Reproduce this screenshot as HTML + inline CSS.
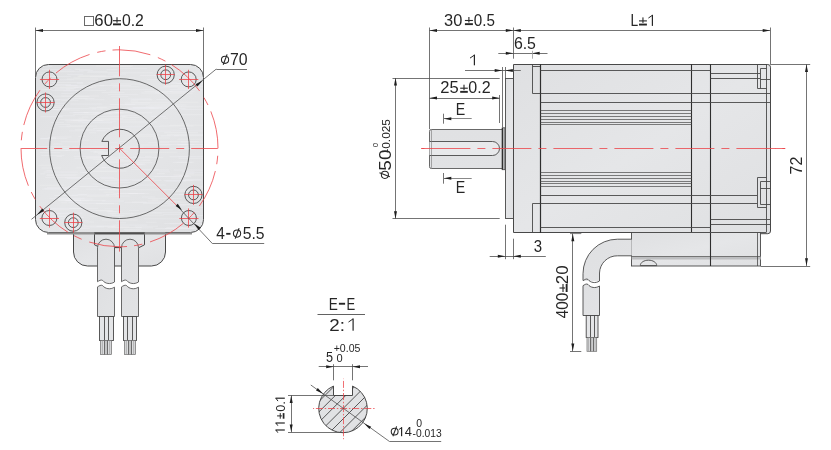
<!DOCTYPE html>
<html><head><meta charset="utf-8"><style>
html,body{margin:0;padding:0;background:#fff;}
svg{display:block;will-change:transform;}
text{font-family:"Liberation Sans", sans-serif;}
</style></head><body>
<svg width="831" height="450" viewBox="0 0 831 450">
<defs>
<linearGradient id="gbody" x1="0" y1="0" x2="1" y2="1"><stop offset="0" stop-color="#dfe0e2"/><stop offset="0.5" stop-color="#e5e6e8"/><stop offset="1" stop-color="#dfe0e2"/></linearGradient>
<linearGradient id="gcab" x1="0" y1="0" x2="1" y2="1"><stop offset="0" stop-color="#dfe0e2"/><stop offset="1" stop-color="#e2e3e5"/></linearGradient>
<linearGradient id="gshaft" x1="0" y1="0" x2="0" y2="1"><stop offset="0" stop-color="#e0e1e3"/><stop offset="1" stop-color="#e1e2e4"/></linearGradient>
</defs>
<rect x="35.5" y="64.5" width="168" height="168" rx="13" ry="13" fill="url(#gbody)" stroke="#484848" stroke-width="1"/>
<clipPath id="bodyclip"><rect x="36" y="65" width="167" height="167" rx="12"/></clipPath>
<path d="M59.6,119.4 h27.8 M117.4,78.0 h17.8 M113.1,75.6 h6.3 M47.5,137.6 h8.2 M161.0,136.0 h9.3 M131.1,102.8 h38.2 M96.5,161.2 h39.2 M165.8,73.7 h15.1 M54.7,89.8 h15.8 M64.1,200.7 h25.4 M92.9,171.4 h24.2 M45.9,76.4 h12.2 M101.1,178.3 h16.0 M105.0,162.6 h15.5 M141.8,197.1 h13.5 M115.8,160.8 h35.6 M80.2,186.4 h39.3 M99.7,85.5 h31.5 M110.3,91.1 h6.4 M151.7,176.3 h25.1 M84.1,210.5 h29.3 M124.0,164.1 h21.0 M178.7,204.6 h21.6 M46.1,175.6 h29.6 M186.0,172.8 h33.8 M94.9,113.0 h28.4 M106.3,69.7 h10.9 M45.8,85.3 h31.9 M74.1,87.3 h18.7 M49.1,209.8 h20.7 M169.5,156.7 h33.7 M78.8,208.6 h19.5 M169.6,125.2 h38.5 M63.4,90.9 h13.1 M109.7,104.5 h25.6 M37.6,109.4 h19.7 M122.0,126.9 h38.4 M114.3,179.9 h26.6 M45.1,177.6 h36.5 M168.2,194.7 h32.9 M96.8,130.7 h8.6 M46.3,170.7 h7.4 M61.3,100.4 h16.9 M37.0,74.7 h10.3 M91.5,82.7 h5.9 M129.1,210.3 h10.2 M89.1,107.6 h17.7 M164.3,86.3 h39.8 M109.6,142.9 h8.0 M88.4,82.9 h14.3 M61.2,202.8 h5.8 M116.2,222.9 h10.1 M41.1,155.6 h23.5 M166.5,227.5 h29.4 M92.0,109.1 h10.8 M116.9,193.4 h32.3 M70.5,120.4 h33.4 M164.9,228.5 h33.2 M148.0,201.0 h12.9 M90.3,151.4 h6.0 M78.9,70.6 h14.1 M180.5,180.3 h20.7 M185.2,220.6 h38.4 M70.1,126.2 h12.9 M67.7,98.5 h26.8 M163.1,214.6 h21.8 M156.9,173.7 h8.0 M173.5,175.0 h32.4 M108.7,189.8 h11.2 M86.9,196.2 h33.0 M96.4,226.3 h19.0 M145.7,222.2 h11.0 M59.7,87.0 h36.7 M58.9,199.1 h33.9 M135.6,227.8 h17.3 M56.6,156.5 h5.5 M134.5,226.2 h23.4 M102.1,220.0 h35.5 M68.7,202.3 h13.8 M73.1,114.3 h25.5 M99.9,108.8 h9.6 M90.1,216.2 h21.0 M172.6,162.3 h19.7 M112.2,217.4 h23.6 M39.8,152.4 h20.4 M37.6,96.2 h33.0 M108.0,94.4 h30.4 M85.9,157.8 h23.1 M154.6,157.6 h8.7 M74.3,158.4 h14.7 M113.2,193.4 h24.7 M173.9,191.4 h20.5 M112.8,167.1 h22.9 M104.9,180.3 h23.7 M178.2,144.9 h29.5 M178.3,210.6 h14.1 M178.5,158.3 h34.4 M55.2,88.6 h20.5 M73.1,78.0 h7.6 M154.6,176.5 h36.4 M144.4,91.5 h28.1 M169.4,89.6 h38.9 M179.9,102.2 h18.9 M185.5,146.4 h34.1 M101.7,92.6 h23.0 M66.4,122.0 h16.1 M39.9,185.2 h24.4 M39.7,138.7 h16.6 M113.8,168.9 h7.3 M155.3,228.5 h39.0 M76.8,83.3 h6.4 M77.6,194.5 h9.5 M173.7,135.7 h33.7 M59.4,108.7 h37.2 M142.1,160.1 h8.1 M140.2,75.5 h19.9 M177.8,77.9 h27.2 M49.6,198.3 h35.0 M166.4,77.0 h20.9 M120.0,122.0 h37.4 M56.4,110.2 h23.4 M53.4,105.3 h10.7 M67.3,74.3 h15.9 M150.9,116.3 h15.1 M63.7,148.5 h17.1 M74.6,69.0 h5.5 M119.7,187.0 h11.6 M177.2,144.3 h8.7 M101.8,201.1 h22.3 M96.0,203.7 h22.7 M184.4,179.5 h17.0 M143.0,203.3 h27.3 M89.1,132.8 h6.9 M47.6,87.4 h30.9 M61.5,108.2 h8.0 M167.6,204.8 h28.5 M73.3,112.5 h15.3 M60.6,141.8 h20.6 M181.3,109.4 h39.0 M73.7,156.3 h38.8 M90.5,117.1 h5.0 M108.2,129.0 h22.6 M112.7,99.2 h5.2 M50.5,109.6 h19.0 M40.4,72.9 h15.6 M124.8,104.4 h23.5 M135.6,189.8 h30.1 M95.4,211.0 h16.4 M59.4,228.5 h30.3 M43.6,172.1 h34.2 M131.1,213.2 h30.7 M57.9,200.0 h23.3 M162.2,149.2 h33.2 M124.6,202.4 h36.2 M141.0,178.7 h13.0 M57.0,71.1 h17.6 M162.4,83.3 h24.5 M130.9,169.6 h28.8 M37.5,146.7 h32.9 M112.4,189.5 h23.7 M46.9,174.8 h30.8 M48.2,107.6 h14.3 M67.8,186.3 h30.9 M111.1,227.0 h18.4 M139.6,145.0 h31.8 M133.4,167.8 h7.7 M75.1,90.3 h31.0 M122.2,116.2 h5.4 M77.3,76.0 h28.5 M138.4,180.2 h15.2 M106.7,151.2 h21.3 M171.0,85.6 h12.0 M177.4,227.4 h5.6 M160.0,141.7 h38.9 M77.3,140.2 h12.3 M68.6,222.0 h25.4 M115.6,89.4 h38.3 M160.0,87.9 h22.8 M142.5,212.3 h13.1 M109.9,214.1 h5.9 M110.8,66.6 h20.8 M58.1,115.8 h17.0 M163.0,118.2 h5.1 M162.9,189.9 h9.2 M144.0,218.9 h36.6 M92.8,113.8 h18.8 M125.4,230.8 h17.6 M78.3,136.6 h6.7 M162.2,82.8 h15.0 M74.4,220.4 h14.3 M65.5,150.3 h18.1 M169.6,223.8 h33.4 M174.0,170.1 h37.9 M144.9,156.6 h6.7 M104.6,186.8 h31.3 M79.9,172.3 h6.7 M56.1,218.9 h21.5 M81.7,122.7 h30.9 M76.0,227.1 h28.0 M120.6,115.6 h18.8 M61.2,93.6 h12.3 M111.6,215.5 h12.7 M186.5,215.5 h20.7 M65.9,89.0 h8.2 M50.7,122.4 h13.4 M122.4,108.6 h36.1 M98.9,189.7 h19.5 M93.5,152.5 h16.8 M78.6,76.2 h38.9 M112.5,86.8 h27.0 M69.4,208.4 h14.5 M97.0,107.0 h20.6 M164.3,223.4 h35.6 M41.8,69.6 h29.8 M108.0,213.8 h25.6 M95.7,66.0 h37.4 M165.3,202.2 h39.0 M53.4,107.0 h10.4 M139.3,152.2 h38.0 M134.1,185.1 h31.8 M119.7,141.5 h6.4 M71.9,195.1 h37.2 M82.6,172.5 h9.5 M132.4,107.5 h29.5 M47.6,84.5 h23.4 M95.2,162.2 h12.8 M38.6,165.2 h15.6 M180.8,142.0 h27.6 M108.3,211.8 h13.2 M181.1,106.8 h29.7 M40.3,116.7 h22.4 M100.0,177.3 h14.0 M175.8,176.1 h12.9 M87.7,71.6 h19.7 M66.7,178.6 h32.9 M112.7,188.0 h12.2 M83.8,226.0 h33.7 M70.2,104.1 h31.6 M179.8,114.7 h22.4 M70.5,96.9 h19.6 M179.3,175.8 h10.1 M68.9,130.9 h39.1 M44.8,89.4 h7.1 M171.7,130.9 h35.9 M186.6,186.9 h37.6 M64.8,120.3 h37.8 M41.8,189.1 h28.3 M93.1,128.5 h16.6 M37.4,93.9 h14.8 M180.3,124.0 h9.3 M68.1,225.1 h17.5 M160.3,201.6 h20.1 M108.0,74.1 h18.0 M66.0,217.7 h17.7 M41.5,214.0 h19.4 M152.0,200.0 h6.4 M46.4,71.8 h37.2 M149.1,108.4 h36.4 M77.8,121.9 h38.5 M76.3,167.8 h30.1 M78.3,118.2 h5.1 M174.5,190.7 h27.2 M40.6,221.6 h13.2 M180.5,144.4 h38.4 M74.7,129.8 h20.0 M176.2,147.4 h11.4 M147.8,198.4 h33.8 M128.1,193.5 h16.5 M91.3,118.7 h32.4 M66.6,79.0 h31.4 M46.7,106.8 h6.2 M85.9,157.2 h39.3 M185.2,211.8 h14.3 M51.5,79.9 h22.4 M104.0,183.1 h13.2 M130.0,134.8 h28.6 M164.0,189.4 h28.3 M163.1,86.0 h15.3 M92.9,159.5 h30.8 M74.1,98.9 h13.6 M169.6,91.3 h25.2 M96.4,119.8 h39.7 M71.7,149.7 h33.3 M185.6,173.8 h8.6 M159.9,144.3 h34.4 M43.1,216.9 h15.3 M65.4,85.7 h39.1 M176.5,162.2 h18.0 M104.4,208.9 h14.1 M178.9,194.3 h8.7 M130.0,164.4 h12.6 M58.2,126.8 h12.1 M126.9,108.1 h27.8 M38.7,99.6 h16.5 M64.8,177.9 h15.9 M156.3,99.6 h24.2 M52.2,76.4 h18.8 M132.9,156.8 h8.2 M141.3,93.0 h19.3 M83.1,112.7 h38.4 M122.0,117.5 h17.5 M166.6,134.7 h39.9 M66.6,126.0 h30.5 M37.9,99.6 h36.6 M160.1,135.9 h19.2 M106.1,211.7 h10.7 M119.7,68.4 h27.4 M50.4,216.1 h26.8 M112.7,127.2 h10.1 M115.2,112.7 h37.4 M110.6,84.0 h33.2 M66.6,225.5 h9.4 M183.3,221.6 h21.9 M175.9,74.8 h18.6 M130.1,215.2 h33.9 M154.9,92.4 h12.8 M164.0,132.7 h34.0 M69.7,96.2 h19.0 M94.5,151.5 h9.3 M145.7,106.8 h36.4 M121.4,72.8 h31.5 M162.7,72.3 h9.1 M119.5,164.9 h26.9 M100.0,116.5 h25.4 M135.8,136.2 h20.6 M40.5,138.3 h26.7 M72.3,146.8 h31.7 M105.7,194.7 h11.3 M53.1,144.1 h9.5 M50.8,137.0 h20.5 M43.1,150.2 h27.3 M147.0,79.6 h32.2 M45.1,150.4 h22.6 M179.6,128.3 h9.8 M186.4,207.4 h30.6 M66.1,200.5 h39.4 M180.5,147.2 h37.1 M155.3,93.2 h37.6 M89.6,76.8 h31.5 M171.5,92.2 h14.6 M58.5,200.6 h22.6 M68.2,217.8 h14.2 M84.9,149.5 h6.3 M61.2,96.0 h37.8 M171.3,178.1 h10.9 M54.3,195.5 h23.6 M91.0,171.0 h35.6 M124.0,157.6 h35.9 M185.9,83.3 h27.0 M156.7,131.1 h14.3 M123.6,229.4 h17.6 M103.3,192.2 h11.2 M44.2,188.7 h33.7 M132.9,107.9 h39.4 M136.6,162.7 h15.9 M42.1,66.3 h10.2 M101.8,167.6 h22.9 M56.8,213.8 h13.0 M40.3,173.8 h5.1 M53.0,124.6 h17.5 M124.5,103.0 h25.6 M130.6,99.7 h21.6 M177.5,88.2 h13.5 M51.4,90.6 h27.3 M154.3,209.8 h19.1 M38.7,109.6 h27.6 M89.5,158.8 h27.6 M177.6,139.2 h30.7 M172.5,107.0 h6.5 M97.9,153.7 h13.3 M153.8,75.6 h5.4 M178.1,156.9 h10.0 M128.2,98.9 h22.7 M159.0,171.9 h11.1 M82.0,117.0 h6.7 M154.4,212.7 h30.0 M163.7,67.0 h31.1 M148.3,142.8 h20.8 M52.8,103.3 h13.1 M87.3,72.4 h31.2 M163.8,180.7 h29.9 M120.1,109.9 h20.3 M115.5,196.1 h14.3 M181.8,171.9 h12.6 M39.3,211.2 h14.1 M148.6,105.0 h38.1 M86.0,189.1 h35.8 M72.9,120.2 h36.8 M140.9,170.1 h28.3 M107.4,227.5 h34.4 M165.6,181.1 h20.3 M122.6,185.6 h15.8 M130.4,101.0 h7.7 M58.7,216.3 h5.9 M176.3,83.6 h17.1 M41.3,89.4 h6.5 M132.1,180.3 h29.4 M46.9,187.6 h25.7 M159.6,126.0 h33.7 M46.9,213.1 h35.4 M178.6,216.9 h8.7 M53.8,99.9 h6.2 M158.8,205.9 h27.2 M131.7,202.1 h15.1 M51.7,82.5 h31.5 M84.9,99.8 h19.8 M75.5,69.5 h14.9 M92.2,184.1 h16.2 M112.6,225.1 h34.8 M41.6,168.0 h19.5 M153.0,138.0 h17.1 M117.7,182.3 h12.6 M50.6,208.3 h33.7 M37.2,94.1 h12.1 M183.7,191.8 h5.2 M110.7,147.0 h32.9 M111.2,96.4 h17.2 M76.1,203.3 h38.0 M69.2,112.8 h29.5 M53.5,148.2 h27.3" stroke="#f6f6f8" stroke-opacity="0.4" stroke-width="0.7" clip-path="url(#bodyclip)"/>
<path d="M73.5,232.5 V252 A14,14 0 0 0 87.5,266 H151.5 A14,14 0 0 0 165.5,252 V232.5" stroke="#484848" stroke-width="1" fill="url(#gbody)" />
<path d="M94.5,232.5 H144.5 V244.8 L139,247.6 M94.5,232.5 V244.8 L97.8,246.4" stroke="#484848" stroke-width="1" fill="none" />
<line x1="47.00" y1="233.50" x2="192.00" y2="233.50" stroke="#8f8f8f" stroke-width="1.8" />
<line x1="94.50" y1="233.50" x2="144.50" y2="233.50" stroke="#505050" stroke-width="1.7" />
<path d="M114.5,247.5 H121.5" stroke="#484848" stroke-width="1.2" fill="none" />
<path d="M114.5,247.5 V266 M121.5,247.5 V266" stroke="#484848" stroke-width="1" fill="none" />
<path d="M97.50,281.70 V247.70 A8.50,8.50 0 0 1 114.50,247.70 V282.00 L114.50,282.00 C110.25,284.70 105.15,283.70 102.60,280.40 C100.90,279.40 99.20,280.70 97.50,281.70 Z" stroke="#505050" stroke-width="0.85" fill="url(#gcab)" />
<path d="M97.50,286.90 C99.20,285.90 100.90,284.60 102.60,285.60 C105.15,288.90 110.25,289.90 114.50,287.20 V316.50 H97.50 Z" stroke="#505050" stroke-width="0.85" fill="url(#gcab)" />
<path d="M121.50,281.70 V247.70 A8.50,8.50 0 0 1 138.50,247.70 V282.00 L138.50,282.00 C134.25,284.70 129.15,283.70 126.60,280.40 C124.90,279.40 123.20,280.70 121.50,281.70 Z" stroke="#505050" stroke-width="0.85" fill="url(#gcab)" />
<path d="M121.50,286.90 C123.20,285.90 124.90,284.60 126.60,285.60 C129.15,288.90 134.25,289.90 138.50,287.20 V316.50 H121.50 Z" stroke="#505050" stroke-width="0.85" fill="url(#gcab)" />
<rect x="99.50" y="316.50" width="14.00" height="24.00" fill="#e4e5e7" stroke="#484848" stroke-width="0.9"/>
<line x1="104.50" y1="316.50" x2="104.50" y2="340.50" stroke="#484848" stroke-width="0.9" />
<line x1="108.50" y1="316.50" x2="108.50" y2="340.50" stroke="#484848" stroke-width="0.9" />
<rect x="100.50" y="340.50" width="11.00" height="14.00" fill="#dcdddf" stroke="#6a6a6a" stroke-width="0.7"/>
<line x1="104.50" y1="340.50" x2="104.50" y2="354.50" stroke="#5e5e5e" stroke-width="0.9" />
<line x1="107.50" y1="340.50" x2="107.50" y2="354.50" stroke="#5e5e5e" stroke-width="0.9" />
<line x1="102.33" y1="340.50" x2="102.33" y2="354.50" stroke="#9a9a9a" stroke-width="0.7"/>
<line x1="106.00" y1="340.50" x2="106.00" y2="354.50" stroke="#9a9a9a" stroke-width="0.7"/>
<line x1="109.67" y1="340.50" x2="109.67" y2="354.50" stroke="#9a9a9a" stroke-width="0.7"/>
<rect x="123.50" y="316.50" width="13.00" height="24.00" fill="#e4e5e7" stroke="#484848" stroke-width="0.9"/>
<line x1="127.50" y1="316.50" x2="127.50" y2="340.50" stroke="#484848" stroke-width="0.9" />
<line x1="132.50" y1="316.50" x2="132.50" y2="340.50" stroke="#484848" stroke-width="0.9" />
<rect x="124.50" y="340.50" width="11.00" height="14.00" fill="#dcdddf" stroke="#6a6a6a" stroke-width="0.7"/>
<line x1="128.50" y1="340.50" x2="128.50" y2="354.50" stroke="#5e5e5e" stroke-width="0.9" />
<line x1="131.50" y1="340.50" x2="131.50" y2="354.50" stroke="#5e5e5e" stroke-width="0.9" />
<line x1="126.33" y1="340.50" x2="126.33" y2="354.50" stroke="#9a9a9a" stroke-width="0.7"/>
<line x1="130.00" y1="340.50" x2="130.00" y2="354.50" stroke="#9a9a9a" stroke-width="0.7"/>
<line x1="133.67" y1="340.50" x2="133.67" y2="354.50" stroke="#9a9a9a" stroke-width="0.7"/>
<circle cx="119.5" cy="148.6" r="69.9" fill="none" stroke="#484848" stroke-width="0.8"/>
<circle cx="119.5" cy="148.6" r="39.4" fill="none" stroke="#484848" stroke-width="0.8"/>
<path d="M101.84,141.4 H108.5 V155.5 H101.61 A19.5,19.5 0 1 0 101.84,141.4" stroke="#484848" stroke-width="0.9" fill="none" />
<circle cx="49.50" cy="79.40" r="7.5" fill="none" stroke="#484848" stroke-width="0.9"/>
<line x1="39.90" y1="79.50" x2="59.10" y2="79.50" stroke="#ec4046" stroke-width="0.78" />
<line x1="49.50" y1="69.80" x2="49.50" y2="89.00" stroke="#ec4046" stroke-width="0.78" />
<circle cx="188.70" cy="79.40" r="7.5" fill="none" stroke="#484848" stroke-width="0.9"/>
<line x1="179.10" y1="79.50" x2="198.30" y2="79.50" stroke="#ec4046" stroke-width="0.78" />
<line x1="188.50" y1="69.80" x2="188.50" y2="89.00" stroke="#ec4046" stroke-width="0.78" />
<circle cx="49.40" cy="218.00" r="7.5" fill="none" stroke="#484848" stroke-width="0.9"/>
<line x1="39.80" y1="218.50" x2="59.00" y2="218.50" stroke="#ec4046" stroke-width="0.78" />
<line x1="49.50" y1="208.40" x2="49.50" y2="227.60" stroke="#ec4046" stroke-width="0.78" />
<circle cx="188.90" cy="218.00" r="7.5" fill="none" stroke="#484848" stroke-width="0.9"/>
<line x1="179.30" y1="218.50" x2="198.50" y2="218.50" stroke="#ec4046" stroke-width="0.78" />
<line x1="188.50" y1="208.40" x2="188.50" y2="227.60" stroke="#ec4046" stroke-width="0.78" />
<circle cx="165.71" cy="74.75" r="8.6" fill="none" stroke="#484848" stroke-width="0.9"/>
<circle cx="165.71" cy="74.75" r="4.9" fill="none" stroke="#484848" stroke-width="0.9"/>
<line x1="156.71" y1="74.50" x2="174.71" y2="74.50" stroke="#ec4046" stroke-width="0.78" />
<line x1="165.50" y1="64.75" x2="165.50" y2="84.75" stroke="#ec4046" stroke-width="0.78" />
<circle cx="45.55" cy="102.49" r="8.6" fill="none" stroke="#484848" stroke-width="0.9"/>
<circle cx="45.55" cy="102.49" r="4.9" fill="none" stroke="#484848" stroke-width="0.9"/>
<line x1="36.55" y1="102.50" x2="54.55" y2="102.50" stroke="#ec4046" stroke-width="0.78" />
<line x1="45.50" y1="92.49" x2="45.50" y2="112.49" stroke="#ec4046" stroke-width="0.78" />
<circle cx="73.29" cy="222.65" r="8.6" fill="none" stroke="#484848" stroke-width="0.9"/>
<circle cx="73.29" cy="222.65" r="4.9" fill="none" stroke="#484848" stroke-width="0.9"/>
<line x1="64.29" y1="222.50" x2="82.29" y2="222.50" stroke="#ec4046" stroke-width="0.78" />
<line x1="73.50" y1="212.65" x2="73.50" y2="232.65" stroke="#ec4046" stroke-width="0.78" />
<circle cx="193.45" cy="194.91" r="8.6" fill="none" stroke="#484848" stroke-width="0.9"/>
<circle cx="193.45" cy="194.91" r="4.9" fill="none" stroke="#484848" stroke-width="0.9"/>
<line x1="184.45" y1="194.50" x2="202.45" y2="194.50" stroke="#ec4046" stroke-width="0.78" />
<line x1="193.50" y1="184.91" x2="193.50" y2="204.91" stroke="#ec4046" stroke-width="0.78" />
<circle cx="119.5" cy="148.3" r="98.5" fill="none" stroke="#ec4046" stroke-width="0.78" stroke-dasharray="38.5 8 8.4 7" stroke-dashoffset="38.9"/>
<line x1="21.20" y1="148.50" x2="217.80" y2="148.50" stroke="#ec4046" stroke-width="0.78" stroke-dasharray="39 7 8 7" stroke-dashoffset="13"/>
<line x1="119.50" y1="46.00" x2="119.50" y2="251.60" stroke="#ec4046" stroke-width="0.78" stroke-dasharray="39 7 8 7" stroke-dashoffset="8.7"/>
<line x1="119.50" y1="148.30" x2="176.50" y2="205.30" stroke="#ec4046" stroke-width="0.78" />
<line x1="35.50" y1="27.50" x2="35.50" y2="77.00" stroke="#505050" stroke-width="0.8" />
<line x1="203.50" y1="27.50" x2="203.50" y2="77.00" stroke="#505050" stroke-width="0.8" />
<line x1="35.50" y1="30.50" x2="203.50" y2="30.50" stroke="#505050" stroke-width="0.8" />
<path d="M35.50,30.40 L43.00,28.90 L43.00,31.90 Z" fill="#1e1e1e"/>
<path d="M203.50,30.40 L196.00,31.90 L196.00,28.90 Z" fill="#1e1e1e"/>
<rect x="84.5" y="16.5" width="9" height="9" fill="none" stroke="#6a6a6a" stroke-width="1"/>
<text x="0" y="0" font-size="16.3" fill="#262626" transform="translate(94.35,25.70) scale(1.0265,1)">60</text>
<g transform="translate(113.00,25.70)"><rect x="0" y="-5.55" width="8.00" height="1.10" fill="#262626"/><rect x="3.45" y="-8.50" width="1.10" height="5.50" fill="#262626"/><rect x="0" y="-2.30" width="8.00" height="1.90" fill="#262626"/></g>
<text x="0" y="0" font-size="16.3" fill="#262626" transform="translate(121.89,25.70) scale(0.9667,1)">0.2</text>
<line x1="31.50" y1="219.30" x2="216.30" y2="69.00" stroke="#505050" stroke-width="0.8" />
<line x1="216.30" y1="69.50" x2="247.00" y2="69.50" stroke="#505050" stroke-width="0.8" />
<path d="M37.00,214.80 L42.26,208.59 L44.15,210.92 Z" fill="#1e1e1e"/>
<path d="M202.70,80.40 L197.44,86.61 L195.55,84.28 Z" fill="#1e1e1e"/>
<ellipse cx="225.05" cy="59.80" rx="3.60" ry="3.55" fill="none" stroke="#262626" stroke-width="1.05"/><line x1="227.10" y1="54.40" x2="223.20" y2="64.80" stroke="#262626" stroke-width="1.1"/>
<text x="0" y="0" font-size="16.3" fill="#262626" transform="translate(229.89,64.80) scale(0.9725,1)">70</text>
<line x1="176.50" y1="205.30" x2="212.50" y2="243.70" stroke="#505050" stroke-width="0.8" />
<line x1="212.50" y1="243.50" x2="264.20" y2="243.50" stroke="#505050" stroke-width="0.8" />
<path d="M182.00,210.20 L175.64,205.96 L177.76,203.84 Z" fill="#1e1e1e"/>
<path d="M194.30,223.60 L200.66,227.84 L198.54,229.96 Z" fill="#1e1e1e"/>
<text x="0" y="0" font-size="16.3" fill="#262626" transform="translate(216.34,238.50) scale(0.9495,1)">4</text>
<rect x="226.2" y="232.9" width="4.3" height="1.8" fill="#262626"/>
<ellipse cx="237.05" cy="233.60" rx="3.60" ry="3.55" fill="none" stroke="#262626" stroke-width="1.05"/><line x1="239.10" y1="228.20" x2="235.20" y2="238.60" stroke="#262626" stroke-width="1.1"/>
<text x="0" y="0" font-size="16.3" fill="#262626" transform="translate(242.67,238.50) scale(0.9662,1)">5.5</text>
<path d="M431.3,129.5 H502.5 V168.5 H431.3 Q429.5,168.5 429.5,166.7 V131.3 Q429.5,129.5 431.3,129.5 Z" stroke="#505050" stroke-width="0.85" fill="url(#gshaft)" />
<path d="M429.5,141.5 H492.5 A7,7 0 0 1 492.5,155.5 H429.5" stroke="#484848" stroke-width="0.9" fill="#e8e9eb" />
<line x1="431.50" y1="130.00" x2="431.50" y2="167.90" stroke="#777" stroke-width="0.6" />
<rect x="502.2" y="127.8" width="2.7" height="41.9" fill="#c8c9cb" stroke="#484848" stroke-width="0.8"/>
<line x1="502.50" y1="128.00" x2="502.50" y2="169.50" stroke="#303030" stroke-width="1.3" />
<rect x="505.5" y="78.5" width="8" height="140" fill="url(#gbody)" stroke="#484848" stroke-width="0.9"/>
<path d="M513.5,64.5 H767.8 Q770.5,64.5 770.5,67.2 V231 Q770.5,233.7 767.8,233.7 H710.5 V232.5 H513.5 Z" fill="url(#gbody)" stroke="#484848" stroke-width="1"/>
<path d="M532.5,64.5 V93.5 H540.5 M532.5,66.5 H540.5" stroke="#484848" stroke-width="0.9" fill="none" />
<path d="M532.5,232.5 V203.5 H540.5" stroke="#484848" stroke-width="0.9" fill="none" />
<line x1="540.50" y1="64.30" x2="540.50" y2="233.00" stroke="#2e2e2e" stroke-width="1.2" />
<line x1="691.50" y1="64.30" x2="691.50" y2="233.00" stroke="#2e2e2e" stroke-width="1.1" />
<line x1="710.50" y1="64.30" x2="710.50" y2="266.00" stroke="#2e2e2e" stroke-width="1.1" />
<line x1="766.50" y1="64.30" x2="766.50" y2="232.20" stroke="#484848" stroke-width="0.9" />
<line x1="540.50" y1="70.50" x2="710.50" y2="70.50" stroke="#484848" stroke-width="0.9" />
<line x1="540.50" y1="93.50" x2="770.20" y2="93.50" stroke="#484848" stroke-width="0.9" />
<line x1="540.50" y1="102.50" x2="770.20" y2="102.50" stroke="#484848" stroke-width="0.9" />
<line x1="540.50" y1="195.50" x2="757.10" y2="195.50" stroke="#484848" stroke-width="0.9" />
<line x1="540.50" y1="203.50" x2="757.10" y2="203.50" stroke="#484848" stroke-width="0.9" />
<line x1="540.50" y1="227.50" x2="710.50" y2="227.50" stroke="#484848" stroke-width="0.9" />
<line x1="540.50" y1="110.50" x2="691.70" y2="110.50" stroke="#4a4a4a" stroke-width="0.7" />
<line x1="540.50" y1="113.50" x2="691.70" y2="113.50" stroke="#4a4a4a" stroke-width="0.7" />
<line x1="540.50" y1="116.50" x2="691.70" y2="116.50" stroke="#4a4a4a" stroke-width="0.7" />
<line x1="540.50" y1="119.50" x2="691.70" y2="119.50" stroke="#4a4a4a" stroke-width="0.7" />
<line x1="540.50" y1="122.50" x2="691.70" y2="122.50" stroke="#4a4a4a" stroke-width="0.7" />
<line x1="540.50" y1="124.50" x2="691.70" y2="124.50" stroke="#4a4a4a" stroke-width="0.7" />
<line x1="540.50" y1="172.50" x2="691.70" y2="172.50" stroke="#4a4a4a" stroke-width="0.7" />
<line x1="540.50" y1="175.50" x2="691.70" y2="175.50" stroke="#4a4a4a" stroke-width="0.7" />
<line x1="540.50" y1="178.50" x2="691.70" y2="178.50" stroke="#4a4a4a" stroke-width="0.7" />
<line x1="540.50" y1="181.50" x2="691.70" y2="181.50" stroke="#4a4a4a" stroke-width="0.7" />
<line x1="540.50" y1="183.50" x2="691.70" y2="183.50" stroke="#4a4a4a" stroke-width="0.7" />
<line x1="540.50" y1="186.50" x2="691.70" y2="186.50" stroke="#4a4a4a" stroke-width="0.7" />
<line x1="710.50" y1="73.50" x2="760.20" y2="73.50" stroke="#484848" stroke-width="0.9" />
<line x1="710.50" y1="78.50" x2="760.20" y2="78.50" stroke="#484848" stroke-width="0.9" />
<line x1="710.50" y1="219.50" x2="770.20" y2="219.50" stroke="#484848" stroke-width="0.9" />
<line x1="710.50" y1="224.50" x2="770.20" y2="224.50" stroke="#484848" stroke-width="0.9" />
<line x1="710.50" y1="232.50" x2="766.40" y2="232.50" stroke="#484848" stroke-width="0.9" />
<path d="M757.5,64.5 V88.5 H766.5 M760.5,68.5 V88.5 M760.5,68.5 H766.5 M760.5,79.5 H770.5" stroke="#484848" stroke-width="0.9" fill="none" />
<path d="M757.5,177.5 H766.5 M757.5,177.5 V207.5 H766.5 M760.5,181.5 V204.5 M760.5,181.5 H770.5 M760.5,188.5 H770.5 M760.5,204.5 H770.5" stroke="#484848" stroke-width="0.9" fill="none" />
<rect x="631.5" y="232.5" width="129" height="33.5" fill="url(#gbody)" stroke="#484848" stroke-width="0.9"/>
<rect x="631.7" y="256.4" width="129" height="3.1" fill="#bdbec0"/>
<line x1="631.70" y1="256.50" x2="760.70" y2="256.50" stroke="#6a6a6a" stroke-width="0.9" />
<line x1="757.50" y1="233.00" x2="757.50" y2="266.00" stroke="#484848" stroke-width="0.8" />
<line x1="710.50" y1="233.00" x2="710.50" y2="266.00" stroke="#2e2e2e" stroke-width="1.1" />
<path d="M640.3,265.6 C640.3,262.5 644,260.2 648.5,260.2 C653,260.2 656.7,262.5 656.7,265.6 Z" stroke="#484848" stroke-width="0.9" fill="none" />
<path d="M631.7,239.2 H617.5 A34.5,34.5 0 0 0 583,273.7 V280.7 L599.5,281 V273 A17.7,17.7 0 0 1 617.5,255.8 H631.7 Z" fill="url(#gcab)" stroke="none"/>
<path d="M631.7,239.2 H617.5 A34.5,34.5 0 0 0 583,273.7 V280.5 M599.5,281 V273 A17.7,17.7 0 0 1 617.5,255.8 H631.7" stroke="#484848" stroke-width="0.9" fill="none" />
<path d="M583,273.7 M599.50,281.00 C595.38,283.70 590.42,282.70 587.95,279.40 C586.30,278.40 584.65,279.70 583.00,280.70" stroke="#484848" stroke-width="0.9" fill="none" />
<path d="M583.00,285.70 C584.65,284.70 586.30,283.40 587.95,284.40 C590.42,287.70 595.38,288.70 599.50,286.00 V315.5 H583 Z" stroke="#484848" stroke-width="0.9" fill="url(#gcab)" />
<rect x="586.20" y="315.50" width="11.80" height="22.00" fill="#e4e5e7" stroke="#484848" stroke-width="0.9"/>
<line x1="590.50" y1="315.50" x2="590.50" y2="337.50" stroke="#484848" stroke-width="0.9" />
<line x1="594.50" y1="315.50" x2="594.50" y2="337.50" stroke="#484848" stroke-width="0.9" />
<rect x="587.00" y="337.50" width="9.70" height="13.80" fill="#dcdddf" stroke="#6a6a6a" stroke-width="0.7"/>
<line x1="590.50" y1="337.50" x2="590.50" y2="351.30" stroke="#5e5e5e" stroke-width="0.9" />
<line x1="593.50" y1="337.50" x2="593.50" y2="351.30" stroke="#5e5e5e" stroke-width="0.9" />
<line x1="588.62" y1="337.50" x2="588.62" y2="351.30" stroke="#9a9a9a" stroke-width="0.7"/>
<line x1="591.85" y1="337.50" x2="591.85" y2="351.30" stroke="#9a9a9a" stroke-width="0.7"/>
<line x1="595.08" y1="337.50" x2="595.08" y2="351.30" stroke="#9a9a9a" stroke-width="0.7"/>
<line x1="421.30" y1="148.50" x2="785.20" y2="148.50" stroke="#ec4046" stroke-width="0.78" stroke-dasharray="39 7 8 7" stroke-dashoffset="50.9"/>
<line x1="421.30" y1="148.50" x2="432.00" y2="148.50" stroke="#ec4046" stroke-width="0.78" />
<line x1="775.00" y1="148.50" x2="785.20" y2="148.50" stroke="#ec4046" stroke-width="0.78" />
<line x1="429.50" y1="27.50" x2="429.50" y2="129.20" stroke="#505050" stroke-width="0.8" />
<line x1="513.50" y1="27.50" x2="513.50" y2="58.70" stroke="#505050" stroke-width="0.8" />
<line x1="770.50" y1="27.50" x2="770.50" y2="64.30" stroke="#505050" stroke-width="0.8" />
<line x1="429.50" y1="30.50" x2="770.20" y2="30.50" stroke="#505050" stroke-width="0.8" />
<path d="M429.50,30.40 L437.00,28.90 L437.00,31.90 Z" fill="#1e1e1e"/>
<path d="M513.30,30.40 L505.80,31.90 L505.80,28.90 Z" fill="#1e1e1e"/>
<path d="M513.30,30.40 L520.80,28.90 L520.80,31.90 Z" fill="#1e1e1e"/>
<path d="M770.20,30.40 L762.70,31.90 L762.70,28.90 Z" fill="#1e1e1e"/>
<text x="0" y="0" font-size="16.3" fill="#262626" transform="translate(444.08,25.50) scale(1.0077,1)">30</text>
<g transform="translate(464.90,25.50)"><rect x="0" y="-5.55" width="8.00" height="1.10" fill="#262626"/><rect x="3.45" y="-8.50" width="1.10" height="5.50" fill="#262626"/><rect x="0" y="-2.30" width="8.00" height="1.90" fill="#262626"/></g>
<text x="0" y="0" font-size="16.3" fill="#262626" transform="translate(473.71,25.50) scale(0.9327,1)">0.5</text>
<text x="0" y="0" font-size="16.3" fill="#262626" transform="translate(630.57,25.90) scale(0.8486,1)">L</text>
<g transform="translate(639.00,25.90)"><rect x="0" y="-5.55" width="7.90" height="1.10" fill="#262626"/><rect x="3.40" y="-8.50" width="1.10" height="5.50" fill="#262626"/><rect x="0" y="-2.30" width="7.90" height="1.90" fill="#262626"/></g>
<g transform="translate(647.90,25.90)"><rect x="3.90" y="-11.00" width="1.20" height="11.00" fill="#262626"/><line x1="4.50" y1="-10.60" x2="0.5" y2="-7.84" stroke="#262626" stroke-width="1.0"/></g>
<line x1="498.30" y1="53.50" x2="547.50" y2="53.50" stroke="#505050" stroke-width="0.8" />
<path d="M513.30,53.30 L505.80,54.80 L505.80,51.80 Z" fill="#1e1e1e"/>
<path d="M532.20,53.30 L539.70,51.80 L539.70,54.80 Z" fill="#1e1e1e"/>
<line x1="532.50" y1="50.80" x2="532.50" y2="58.70" stroke="#999" stroke-width="0.8" />
<text x="0" y="0" font-size="16.3" fill="#262626" transform="translate(513.89,48.80) scale(0.9744,1)">6.5</text>
<line x1="465.00" y1="70.50" x2="520.80" y2="70.50" stroke="#505050" stroke-width="0.8" />
<path d="M502.20,70.50 L494.70,72.00 L494.70,69.00 Z" fill="#1e1e1e"/>
<path d="M505.30,70.50 L512.80,69.00 L512.80,72.00 Z" fill="#1e1e1e"/>
<line x1="502.50" y1="67.00" x2="502.50" y2="127.50" stroke="#505050" stroke-width="0.8" />
<line x1="505.50" y1="67.00" x2="505.50" y2="78.00" stroke="#505050" stroke-width="0.8" />
<g transform="translate(469.50,65.30)"><rect x="4.30" y="-10.60" width="1.20" height="10.60" fill="#262626"/><line x1="4.90" y1="-10.20" x2="0.5" y2="-7.19" stroke="#262626" stroke-width="1.0"/></g>
<line x1="392.50" y1="78.50" x2="499.70" y2="78.50" stroke="#505050" stroke-width="0.8" />
<line x1="392.50" y1="218.50" x2="499.70" y2="218.50" stroke="#505050" stroke-width="0.8" />
<line x1="395.50" y1="78.00" x2="395.50" y2="218.80" stroke="#505050" stroke-width="0.8" />
<path d="M395.50,78.00 L397.00,85.50 L394.00,85.50 Z" fill="#1e1e1e"/>
<path d="M395.50,218.80 L394.00,211.30 L397.00,211.30 Z" fill="#1e1e1e"/>
<g transform="rotate(-90 389.80 178.70)"><ellipse cx="393.65" cy="173.80" rx="3.60" ry="3.55" fill="none" stroke="#262626" stroke-width="1.05"/><line x1="395.70" y1="168.40" x2="391.80" y2="178.80" stroke="#262626" stroke-width="1.1"/></g>
<text x="0" y="0" font-size="16.3" fill="#262626" transform="translate(390.50,169.90) rotate(-90) translate(-0.76,0) scale(1.1640,1)">50</text>
<text x="0" y="0" font-size="10" fill="#262626" transform="translate(390.00,152.20) rotate(-90) translate(-0.52,0) scale(1.1895,1)">-0.025</text>
<text x="0" y="0" font-size="7" fill="#262626" transform="translate(378.30,147.00) rotate(-90) translate(-0.31,0) scale(1.1357,1)">0</text>
<line x1="499.50" y1="95.00" x2="499.50" y2="123.00" stroke="#505050" stroke-width="0.8" />
<line x1="429.50" y1="98.50" x2="499.70" y2="98.50" stroke="#505050" stroke-width="0.8" />
<path d="M429.50,98.00 L437.00,96.50 L437.00,99.50 Z" fill="#1e1e1e"/>
<path d="M499.70,98.00 L492.20,99.50 L492.20,96.50 Z" fill="#1e1e1e"/>
<text x="0" y="0" font-size="16.3" fill="#262626" transform="translate(440.27,93.20) scale(1.0165,1)">25</text>
<g transform="translate(460.20,93.20)"><rect x="0" y="-5.55" width="7.60" height="1.10" fill="#262626"/><rect x="3.25" y="-8.50" width="1.10" height="5.50" fill="#262626"/><rect x="0" y="-2.30" width="7.60" height="1.90" fill="#262626"/></g>
<text x="0" y="0" font-size="16.3" fill="#262626" transform="translate(468.27,93.20) scale(0.9856,1)">0.2</text>
<line x1="443.50" y1="113.70" x2="443.50" y2="123.70" stroke="#505050" stroke-width="0.8" />
<line x1="443.30" y1="118.50" x2="471.70" y2="118.50" stroke="#7a7a7a" stroke-width="0.9" />
<path d="M443.80,118.70 L451.30,117.20 L451.30,120.20 Z" fill="#1e1e1e"/>
<text x="0" y="0" font-size="16.3" fill="#262626" transform="translate(455.84,114.70) scale(0.8716,1)">E</text>
<line x1="443.50" y1="173.00" x2="443.50" y2="183.70" stroke="#505050" stroke-width="0.8" />
<line x1="443.30" y1="178.50" x2="471.70" y2="178.50" stroke="#7a7a7a" stroke-width="0.9" />
<path d="M443.80,178.30 L451.30,176.80 L451.30,179.80 Z" fill="#1e1e1e"/>
<text x="0" y="0" font-size="16.3" fill="#262626" transform="translate(455.84,193.00) scale(0.8716,1)">E</text>
<line x1="505.50" y1="224.70" x2="505.50" y2="259.20" stroke="#505050" stroke-width="0.8" />
<line x1="513.50" y1="238.70" x2="513.50" y2="259.20" stroke="#505050" stroke-width="0.8" />
<line x1="489.70" y1="256.50" x2="545.80" y2="256.50" stroke="#505050" stroke-width="0.8" />
<path d="M505.30,256.30 L497.80,257.80 L497.80,254.80 Z" fill="#1e1e1e"/>
<path d="M513.30,256.30 L520.80,254.80 L520.80,257.80 Z" fill="#1e1e1e"/>
<text x="0" y="0" font-size="16.3" fill="#262626" transform="translate(533.63,251.70) scale(0.9190,1)">3</text>
<line x1="770.20" y1="64.50" x2="810.20" y2="64.50" stroke="#505050" stroke-width="0.8" />
<line x1="760.70" y1="266.50" x2="810.20" y2="266.50" stroke="#505050" stroke-width="0.8" />
<line x1="806.50" y1="64.30" x2="806.50" y2="266.00" stroke="#505050" stroke-width="0.8" />
<path d="M806.50,64.50 L808.00,72.00 L805.00,72.00 Z" fill="#1e1e1e"/>
<path d="M806.50,265.80 L805.00,258.30 L808.00,258.30 Z" fill="#1e1e1e"/>
<text x="0" y="0" font-size="16.3" fill="#262626" transform="translate(802.30,173.70) rotate(-90) translate(-0.82,0) scale(0.9831,1)">72</text>
<line x1="570.00" y1="233.50" x2="581.30" y2="233.50" stroke="#888" stroke-width="1.2" />
<line x1="572.50" y1="233.50" x2="572.50" y2="351.30" stroke="#505050" stroke-width="0.8" />
<line x1="570.00" y1="351.50" x2="581.30" y2="351.50" stroke="#505050" stroke-width="0.8" />
<path d="M572.80,233.70 L574.30,241.20 L571.30,241.20 Z" fill="#1e1e1e"/>
<path d="M572.80,351.00 L571.30,343.50 L574.30,343.50 Z" fill="#1e1e1e"/>
<text x="0" y="0" font-size="16.3" fill="#262626" transform="translate(568.00,318.00) rotate(-90) translate(-0.35,0) scale(0.9435,1)">400</text>
<g transform="translate(568.00,292.00) rotate(-90)"><rect x="0" y="-5.55" width="8.00" height="1.10" fill="#262626"/><rect x="3.45" y="-8.50" width="1.10" height="5.50" fill="#262626"/><rect x="0" y="-2.30" width="8.00" height="1.90" fill="#262626"/></g>
<text x="0" y="0" font-size="16.3" fill="#262626" transform="translate(568.00,283.30) rotate(-90) translate(-0.85,0) scale(1.0375,1)">20</text>
<text x="0" y="0" font-size="16.3" fill="#262626" transform="translate(328.68,309.70) scale(0.8376,1)">E</text>
<rect x="338.9" y="302.8" width="6.2" height="1.9" fill="#262626"/>
<text x="0" y="0" font-size="16.3" fill="#262626" transform="translate(346.43,309.70) scale(0.8037,1)">E</text>
<line x1="317.50" y1="314.50" x2="365.00" y2="314.50" stroke="#505050" stroke-width="0.9" />
<text x="0" y="0" font-size="16.3" fill="#262626" transform="translate(329.36,330.70) scale(1.1509,1)">2:</text>
<g transform="translate(348.00,330.70)"><rect x="4.50" y="-12.20" width="1.20" height="12.20" fill="#262626"/><line x1="5.10" y1="-11.80" x2="0.5" y2="-8.67" stroke="#262626" stroke-width="1.0"/></g>
<clipPath id="secclip"><path d="M333.5,386.06 V395.5 H352.5 V386.06 A24.3,24.3 0 1 1 333.5,386.06 Z"/></clipPath>
<path d="M333.5,386.06 V395.5 H352.5 V386.06 A24.3,24.3 0 1 1 333.5,386.06 Z" stroke="#484848" stroke-width="1" fill="#e1e2e4" />
<path d="M261.70,448.30 L341.70,368.30 M272.10,448.30 L352.10,368.30 M282.50,448.30 L362.50,368.30 M292.90,448.30 L372.90,368.30 M303.30,448.30 L383.30,368.30 M313.70,448.30 L393.70,368.30 M324.10,448.30 L404.10,368.30 M334.50,448.30 L414.50,368.30 M344.90,448.30 L424.90,368.30" stroke="#333" stroke-width="0.8" fill="none" clip-path="url(#secclip)"/>
<line x1="313.00" y1="408.50" x2="375.00" y2="408.50" stroke="#ec4046" stroke-width="0.75" stroke-dasharray="7 1.8 1.5 1.8" stroke-dashoffset="9.2"/>
<line x1="343.50" y1="378.70" x2="343.50" y2="439.20" stroke="#ec4046" stroke-width="0.75" stroke-dasharray="7 1.8 1.5 1.8" stroke-dashoffset="9.9"/>
<line x1="318.70" y1="366.50" x2="368.00" y2="366.50" stroke="#505050" stroke-width="0.8" />
<path d="M333.70,366.70 L326.20,368.20 L326.20,365.20 Z" fill="#1e1e1e"/>
<path d="M352.50,366.70 L360.00,365.20 L360.00,368.20 Z" fill="#1e1e1e"/>
<line x1="333.50" y1="364.20" x2="333.50" y2="380.30" stroke="#505050" stroke-width="0.8" />
<line x1="352.50" y1="364.20" x2="352.50" y2="380.30" stroke="#505050" stroke-width="0.8" />
<text x="0" y="0" font-size="14.8" fill="#262626" transform="translate(326.09,362.00) scale(0.8553,1)">5</text>
<text x="0" y="0" font-size="10.3" fill="#262626" transform="translate(333.68,352.10) scale(1.0270,1)">+0.05</text>
<text x="0" y="0" font-size="10.3" fill="#262626" transform="translate(336.57,361.80) scale(1.0765,1)">0</text>
<line x1="288.00" y1="395.50" x2="333.70" y2="395.50" stroke="#505050" stroke-width="0.8" />
<line x1="288.00" y1="432.50" x2="343.00" y2="432.50" stroke="#505050" stroke-width="0.8" />
<line x1="291.50" y1="395.30" x2="291.50" y2="432.30" stroke="#505050" stroke-width="0.8" />
<path d="M291.20,395.50 L292.70,403.00 L289.70,403.00 Z" fill="#1e1e1e"/>
<path d="M291.20,432.00 L289.70,424.50 L292.70,424.50 Z" fill="#1e1e1e"/>
<g transform="translate(284.80,433.20) rotate(-90)"><rect x="2.60" y="-9.30" width="1.20" height="9.30" fill="#262626"/><line x1="3.20" y1="-8.90" x2="0.5" y2="-6.94" stroke="#262626" stroke-width="1.0"/></g>
<g transform="translate(284.80,426.20) rotate(-90)"><rect x="2.60" y="-9.30" width="1.20" height="9.30" fill="#262626"/><line x1="3.20" y1="-8.90" x2="0.5" y2="-6.94" stroke="#262626" stroke-width="1.0"/></g>
<g transform="translate(284.80,418.70) rotate(-90)"><rect x="0" y="-5.05" width="5.60" height="1.00" fill="#262626"/><rect x="2.30" y="-7.73" width="1.00" height="5.00" fill="#262626"/><rect x="0" y="-2.09" width="5.60" height="1.73" fill="#262626"/></g>
<text x="0" y="0" font-size="13.5" fill="#262626" transform="translate(284.80,411.30) rotate(-90) translate(-0.50,0) scale(0.9470,1)">0.</text>
<g transform="translate(284.80,401.60) rotate(-90)"><rect x="2.80" y="-9.30" width="1.20" height="9.30" fill="#262626"/><line x1="3.40" y1="-8.90" x2="0.5" y2="-6.82" stroke="#262626" stroke-width="1.0"/></g>
<line x1="310.80" y1="385.00" x2="389.50" y2="441.50" stroke="#505050" stroke-width="0.8" />
<line x1="389.50" y1="441.50" x2="441.20" y2="441.50" stroke="#505050" stroke-width="0.8" />
<path d="M323.00,393.70 L316.03,390.54 L317.78,388.11 Z" fill="#1e1e1e"/>
<path d="M364.20,423.50 L371.17,426.66 L369.42,429.09 Z" fill="#1e1e1e"/>
<ellipse cx="394.66" cy="431.55" rx="3.42" ry="3.37" fill="none" stroke="#262626" stroke-width="1.05"/><line x1="396.61" y1="426.41" x2="392.90" y2="436.30" stroke="#262626" stroke-width="1.1"/>
<g transform="translate(398.30,436.20)"><rect x="2.70" y="-9.00" width="1.20" height="9.00" fill="#262626"/><line x1="3.30" y1="-8.60" x2="0.5" y2="-6.58" stroke="#262626" stroke-width="1.0"/></g>
<text x="0" y="0" font-size="13" fill="#262626" transform="translate(404.80,436.20) scale(0.9921,1)">4</text>
<text x="0" y="0" font-size="10.5" fill="#262626" transform="translate(412.55,436.90) scale(0.9777,1)">-0.013</text>
<text x="0" y="0" font-size="10" fill="#262626" transform="translate(416.29,426.80) scale(1.0460,1)">0</text>
</svg></body></html>
